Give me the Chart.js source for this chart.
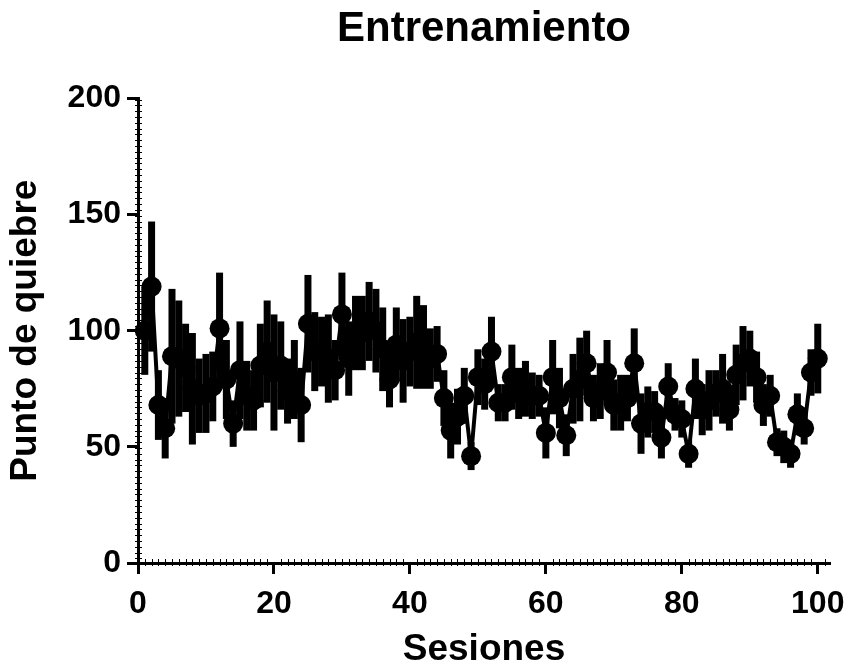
<!DOCTYPE html>
<html>
<head>
<meta charset="utf-8">
<script src="https://cdn.jsdelivr.net/npm/chart.js@4"></script>
<style>
  body { margin: 0; background: #fff; }
</style>
</head>
<body>
<canvas id="trainingChart" width="848" height="668"></canvas>
<script>
// Sesiones (eje X)
const sessions = [
  1, 2, 3, 4, 5, 6, 7, 8, 9, 10,
  11, 12, 13, 14, 15, 16, 17, 18, 19, 20,
  21, 22, 23, 24, 25, 26, 27, 28, 29, 30,
  31, 32, 33, 34, 35, 36, 37, 38, 39, 40,
  41, 42, 43, 44, 45, 46, 47, 48, 49, 50,
  51, 52, 53, 54, 55, 56, 57, 58, 59, 60,
  61, 62, 63, 64, 65, 66, 67, 68, 69, 70,
  71, 72, 73, 74, 75, 76, 77, 78, 79, 80,
  81, 82, 83, 84, 85, 86, 87, 88, 89, 90,
  91, 92, 93, 94, 95, 96, 97, 98, 99, 100
];

// Punto de quiebre medio por sesion
const means = [
  100, 119, 68, 58, 89, 88, 84, 75, 72, 73,
  76, 101, 79, 60, 83, 72, 70, 85, 91, 82,
  85, 74, 79, 68, 103, 91, 91, 88, 83, 107,
  88, 99, 99, 104, 100, 92, 79, 94, 87, 91,
  95, 93, 88, 90, 71, 57, 63, 72, 46, 80,
  77, 91, 69, 69, 80, 73, 75, 72, 72, 56,
  80, 71, 55, 75, 79, 86, 71, 74, 82, 68,
  69, 71, 86, 60, 65, 65, 54, 76, 64, 62,
  47, 75, 66, 70, 73, 75, 66, 81, 86, 88,
  80, 68, 72, 52, 50, 47, 64, 58, 82, 88
];

// Error estandar por sesion
const sems = [
  19, 28, 15, 13, 29, 25, 19, 24, 16, 17,
  15, 24, 17, 10, 21, 15, 13, 18, 22, 25,
  19, 14, 17, 16, 21, 17, 15, 19, 13, 18,
  16, 16, 16, 17, 18, 18, 12, 16, 18, 15,
  20, 18, 13, 12, 12, 12, 12, 12, 6, 12,
  11, 15, 8, 8, 14, 11, 12, 10, 9, 11,
  16, 13, 9, 15, 18, 14, 10, 12, 14, 11,
  12, 10, 15, 13, 11, 9, 9, 10, 7, 8,
  6, 13, 11, 13, 10, 15, 9, 13, 16, 12,
  11, 9, 9, 6, 7, 6, 9, 7, 10, 15
];

const xTicks = [0, 20, 40, 60, 80, 100];
const yTicks = [0, 50, 100, 150, 200];

const FONT = "'Liberation Sans', Arial, Helvetica, sans-serif";

// barras de error (media +/- EE) dibujadas con las escalas del grafico
const errorBars = {
  id: "errorBars",
  beforeDatasetsDraw(chart) {
    const { ctx, scales } = chart;
    ctx.save();
    ctx.fillStyle = "#000";
    sessions.forEach((s, i) => {
      const px = scales.x.getPixelForValue(s);
      const top = scales.y.getPixelForValue(means[i] + sems[i]);
      const bottom = scales.y.getPixelForValue(means[i] - sems[i]);
      ctx.fillRect(px - 3.5, top, 7, bottom - top);
    });
    ctx.restore();
  },
};

// marcas menores de los ejes
const minorTicks = {
  id: "minorTicks",
  afterDraw(chart) {
    const { ctx, scales, chartArea } = chart;
    ctx.save();
    ctx.strokeStyle = "#000";
    ctx.lineWidth = 1;
    for (let v = 1; v <= 101; v++) {
      if (v % 20 === 0) continue;
      const px = Math.round(scales.x.getPixelForValue(v)) + 0.5;
      ctx.beginPath();
      ctx.moveTo(px, chartArea.bottom - 4);
      ctx.lineTo(px, chartArea.bottom + 3);
      ctx.stroke();
    }
    for (let v = 2; v < 200; v += 2.5) {
      const py = Math.round(scales.y.getPixelForValue(v)) + 0.5;
      ctx.beginPath();
      ctx.moveTo(chartArea.left - 3, py);
      ctx.lineTo(chartArea.left + 4, py);
      ctx.stroke();
    }
    ctx.restore();
  },
};

const ctx = document.getElementById("trainingChart").getContext("2d");
const trainingChart = new Chart(ctx, {
  type: "line",
  data: {
    datasets: [
      {
        label: "Entrenamiento",
        data: sessions.map((s, i) => ({ x: s, y: means[i] })),
        borderColor: "#000",
        backgroundColor: "#000",
        borderWidth: 4,
        pointRadius: 10,
        pointHoverRadius: 10,
        pointBorderWidth: 0,
        pointBackgroundColor: "#000",
        tension: 0,
        clip: false,
      },
    ],
  },
  options: {
    responsive: false,
    animation: false,
    devicePixelRatio: 1,
    layout: {
      padding: { left: 0, right: 18, top: 0, bottom: 0 },
    },
    plugins: {
      legend: { display: false },
      tooltip: { enabled: false },
      title: {
        display: true,
        text: "Entrenamiento",
        fullSize: false,
        color: "#000",
        font: { family: FONT, size: 42, weight: "bold" },
        padding: { top: 4, bottom: 44 },
      },
    },
    scales: {
      x: {
        type: "linear",
        min: 0,
        max: 101.8,
        afterBuildTicks: (scale) => {
          scale.ticks = xTicks.map((v) => ({ value: v }));
        },
        afterFit: (scale) => {
          scale.height = 105;
          scale.paddingLeft = 0;
          scale.paddingRight = 0;
        },
        ticks: {
          color: "#000",
          padding: 11,
          maxRotation: 0,
          font: { family: FONT, size: 32, weight: "bold" },
        },
        grid: {
          drawOnChartArea: false,
          drawTicks: true,
          tickLength: 11,
          tickWidth: 3,
          color: "#000",
        },
        border: { display: true, color: "#000", width: 3 },
        title: {
          display: true,
          text: "Sesiones",
          color: "#000",
          font: { family: FONT, size: 37, weight: "bold", lineHeight: 1 },
          padding: { top: 0, bottom: 0 },
        },
      },
      y: {
        min: 0,
        max: 200,
        afterBuildTicks: (scale) => {
          scale.ticks = yTicks.map((v) => ({ value: v }));
        },
        afterFit: (scale) => {
          scale.width = 138;
          scale.paddingTop = 0;
          scale.paddingBottom = 0;
        },
        ticks: {
          color: "#000",
          padding: 6,
          font: { family: FONT, size: 32, weight: "bold" },
        },
        grid: {
          drawOnChartArea: false,
          drawTicks: true,
          tickLength: 11,
          tickWidth: 3,
          color: "#000",
        },
        border: { display: true, color: "#000", width: 3 },
        title: {
          display: true,
          text: "Punto de quiebre",
          color: "#000",
          font: { family: FONT, size: 37, weight: "bold" },
          padding: { top: 4, bottom: 0 },
        },
      },
    },
  },
  plugins: [errorBars, minorTicks],
});
</script>
</body>
</html>
